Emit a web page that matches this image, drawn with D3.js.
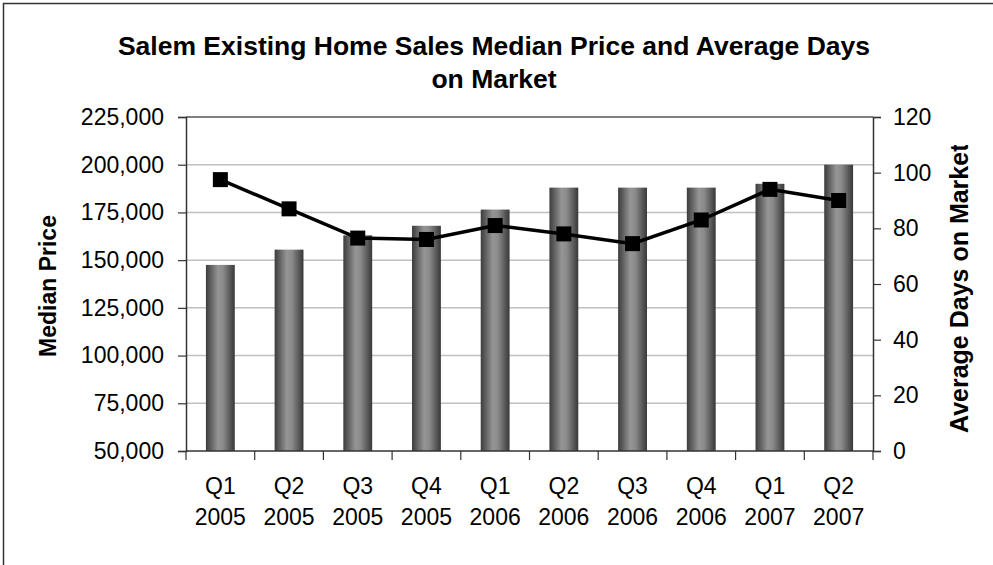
<!DOCTYPE html>
<html>
<head>
<meta charset="utf-8">
<script src="https://cdn.jsdelivr.net/npm/d3@7"></script>
<style>
  body { margin: 0; background: #fff; }
  text { font-family: "Liberation Sans", Arial, sans-serif; fill: #000; }
</style>
</head>
<body>
<div id="chart-area"></div>
<script>
var quarters = ["Q1", "Q2", "Q3", "Q4", "Q1", "Q2", "Q3", "Q4", "Q1", "Q2"]
var years = ["2005", "2005", "2005", "2005", "2006", "2006", "2006", "2006", "2007", "2007"]
var medianPrice = [147500, 155500, 163000, 168000, 176500, 188000, 188000, 188000, 190000, 200000]
var avgDays = [97.5, 87, 76.5, 76, 81, 78, 74.5, 83, 94, 90]
var priceTicks = [50000, 75000, 100000, 125000, 150000, 175000, 200000, 225000]
var dayTicks = [0, 20, 40, 60, 80, 100, 120]

var W = 993, H = 565
var margin = { left: 186, right: 120, top: 117, bottom: 114 }
var width = W - margin.left - margin.right,
    height = H - margin.top - margin.bottom

var data = quarters.map(function(q, i) {
  return { key: q + " " + years[i], q: q, year: years[i], price: medianPrice[i], days: avgDays[i] }
})

var svg = d3.select("#chart-area").append("svg")
  .attr("width", W)
  .attr("height", H)

// gradient for the cylinder-looking bars
var defs = svg.append("defs")
var grad = defs.append("linearGradient")
  .attr("id", "barGrad")
  .attr("x1", "0%").attr("x2", "100%").attr("y1", "0%").attr("y2", "0%")
grad.append("stop").attr("offset", "0%").attr("stop-color", "#3c3c3c")
grad.append("stop").attr("offset", "42%").attr("stop-color", "#959595")
grad.append("stop").attr("offset", "60%").attr("stop-color", "#8a8a8a")
grad.append("stop").attr("offset", "100%").attr("stop-color", "#383838")

// the right title gets cut off a little at its top end, like the original
defs.append("clipPath").attr("id", "rtClip")
  .append("rect")
    .attr("x", 900).attr("y", 145)
    .attr("width", 93).attr("height", 420)

// outer chart border
svg.append("rect")
  .attr("x", 3.5).attr("y", 3.5)
  .attr("width", W).attr("height", H + 20)
  .attr("fill", "none")
  .attr("stroke", "#333")
  .attr("stroke-width", 1.5)

svg.append("text")
  .attr("x", 494).attr("y", 55)
  .attr("text-anchor", "middle")
  .attr("font-size", "26.5px").attr("font-weight", "bold")
  .text("Salem Existing Home Sales Median Price and Average Days")
svg.append("text")
  .attr("x", 494).attr("y", 88)
  .attr("text-anchor", "middle")
  .attr("font-size", "26.5px").attr("font-weight", "bold")
  .text("on Market")

var g = svg.append("g")
  .attr("transform", "translate(" + margin.left + "," + margin.top + ")")

var x = d3.scaleBand()
  .domain(data.map(function(d) { return d.key }))
  .range([0, width])
  .padding(0)

var y = d3.scaleLinear()
  .domain([50000, 225000])
  .range([height, 0])

var y2 = d3.scaleLinear()
  .domain([0, 120])
  .range([height, 0])

// gridlines
g.selectAll(".grid")
  .data(priceTicks.slice(1, -1))
  .enter().append("line")
    .attr("class", "grid")
    .attr("x1", 0).attr("x2", width)
    .attr("y1", function(d) { return y(d) })
    .attr("y2", function(d) { return y(d) })
    .attr("stroke", "#c0c0c0")
    .attr("stroke-width", 1.5)

// plot area top edge
g.append("line")
  .attr("x1", 0).attr("x2", width)
  .attr("y1", 0).attr("y2", 0)
  .attr("stroke", "#808080")
  .attr("stroke-width", 2)

// bars
var barW = x.bandwidth() * 0.42
g.selectAll("rect.bar")
  .data(data)
  .enter().append("rect")
    .attr("class", "bar")
    .attr("x", function(d) { return x(d.key) + (x.bandwidth() - barW) / 2 })
    .attr("width", barW)
    .attr("y", function(d) { return y(d.price) })
    .attr("height", function(d) { return height - y(d.price) })
    .attr("fill", "url(#barGrad)")

// axes
var yAxisCall = d3.axisLeft(y)
  .tickValues(priceTicks)
  .tickFormat(d3.format(","))
  .tickSize(8)
  .tickPadding(14)
var yAxisGroup = g.append("g").call(yAxisCall)

var y2AxisCall = d3.axisRight(y2)
  .tickValues(dayTicks)
  .tickSize(8)
  .tickPadding(12)
var y2AxisGroup = g.append("g")
  .attr("transform", "translate(" + width + ",0)")
  .call(y2AxisCall)

var xAxisGroup = g.append("g")
  .attr("transform", "translate(0," + height + ")")
xAxisGroup.append("line")
  .attr("x1", 0).attr("x2", width)
  .attr("stroke", "#333").attr("stroke-width", 1.5)
xAxisGroup.selectAll(".xtick")
  .data(d3.range(data.length + 1))
  .enter().append("line")
    .attr("class", "xtick")
    .attr("x1", function(i) { return i * x.step() })
    .attr("x2", function(i) { return i * x.step() })
    .attr("y1", 0).attr("y2", 9)
    .attr("stroke", "#333").attr("stroke-width", 1.2)
var xLabels = xAxisGroup.selectAll(".xlab")
  .data(data)
  .enter().append("text")
    .attr("class", "xlab")
    .attr("text-anchor", "middle")
    .attr("font-size", "23px")
xLabels.append("tspan")
  .attr("x", function(d) { return x(d.key) + x.bandwidth() / 2 })
  .attr("y", 43)
  .text(function(d) { return d.q })
xLabels.append("tspan")
  .attr("x", function(d) { return x(d.key) + x.bandwidth() / 2 })
  .attr("y", 74)
  .text(function(d) { return d.year })

;[yAxisGroup, y2AxisGroup].forEach(function(ax) {
  ax.select(".domain").attr("stroke", "#333").attr("stroke-width", 1.5)
  ax.selectAll(".tick line").attr("stroke", "#333").attr("stroke-width", 1.2)
  ax.selectAll(".tick text")
    .attr("font-size", "23px")
    .attr("font-family", "'Liberation Sans', Arial, sans-serif")
    .attr("fill", "#000")
})

// line for average days on market
var line = d3.line()
  .x(function(d) { return x(d.key) + x.bandwidth() / 2 })
  .y(function(d) { return y2(d.days) })

g.append("path")
  .datum(data)
  .attr("d", line)
  .attr("fill", "none")
  .attr("stroke", "#000")
  .attr("stroke-width", 3.5)

var mk = 15
g.selectAll("rect.marker")
  .data(data)
  .enter().append("rect")
    .attr("class", "marker")
    .attr("x", function(d) { return x(d.key) + x.bandwidth() / 2 - mk / 2 })
    .attr("y", function(d) { return y2(d.days) - mk / 2 })
    .attr("width", mk)
    .attr("height", mk)
    .attr("fill", "#000")

// axis titles
svg.append("text")
  .attr("transform", "translate(56," + 286 + ") rotate(-90)")
  .attr("text-anchor", "middle")
  .attr("font-size", "23px").attr("font-weight", "bold")
  .text("Median Price")

svg.append("g").attr("clip-path", "url(#rtClip)")
  .append("text")
    .attr("transform", "translate(968," + 433 + ") rotate(-90)")
    .attr("text-anchor", "start")
    .attr("font-size", "25px").attr("font-weight", "bold")
    .text("Average Days on Market")
</script>
</body>
</html>
